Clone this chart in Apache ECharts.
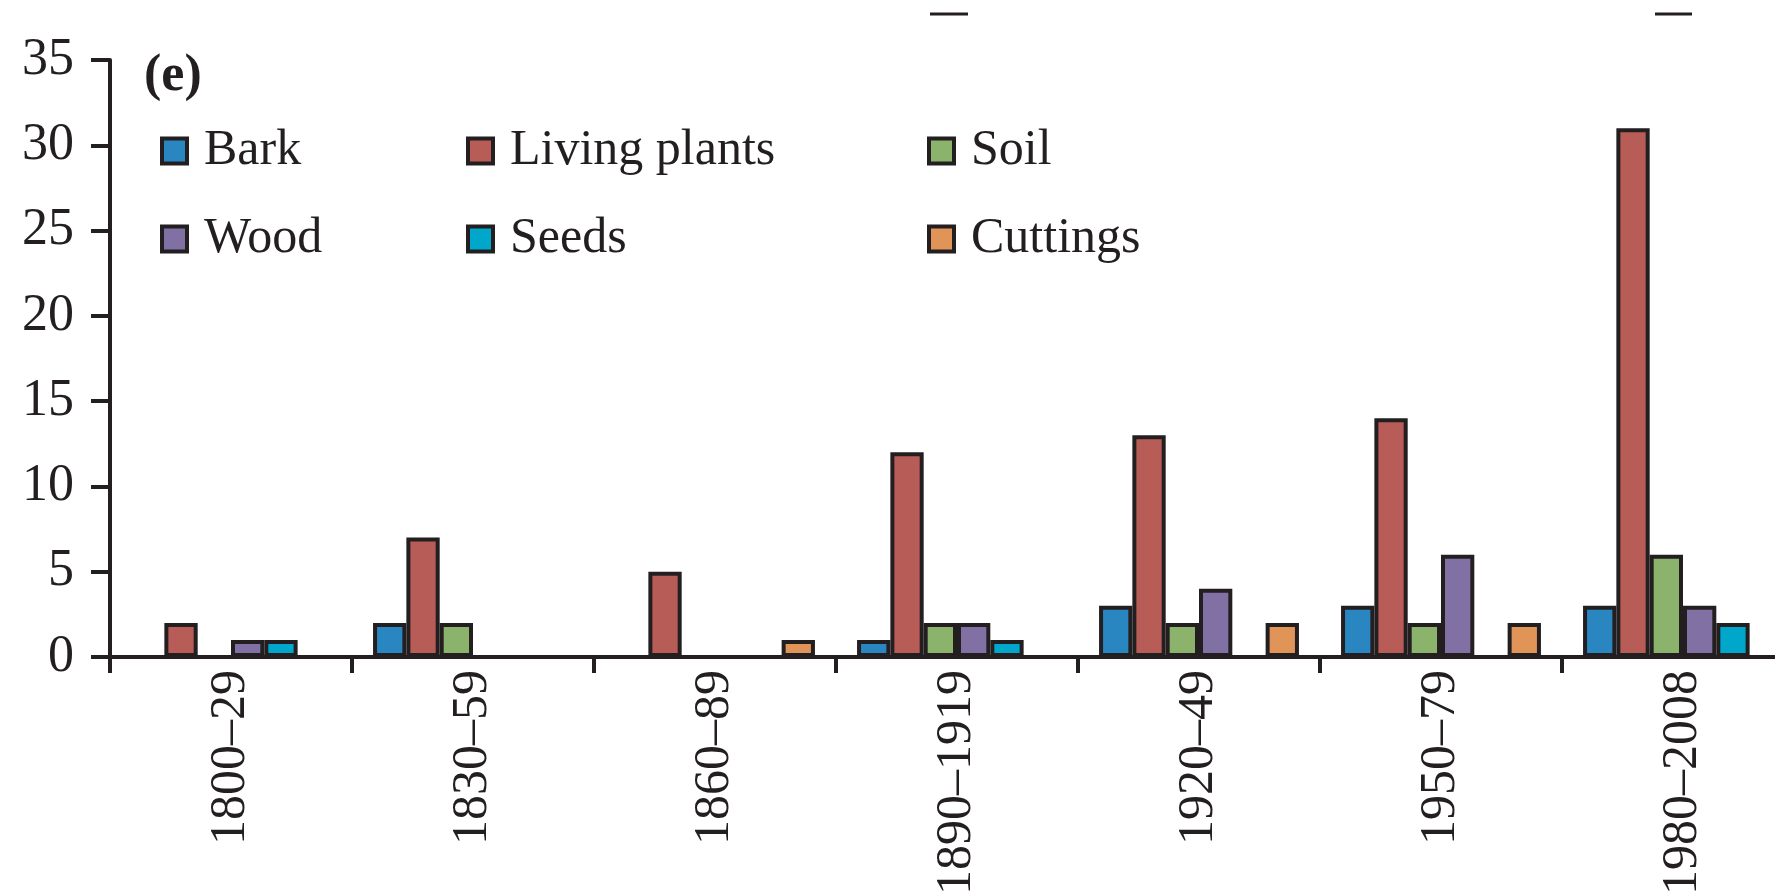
<!DOCTYPE html>
<html>
<head>
<meta charset="utf-8">
<style>
  html, body { margin: 0; padding: 0; background: #ffffff; }
  #chart { width: 1775px; height: 893px; }
</style>
<script src="https://cdn.jsdelivr.net/npm/echarts@6/dist/echarts.min.js"></script>
</head>
<body>
<div id="chart"></div>
<script>
// Period categories along the x axis
const periods = ['1800\u201329', '1830\u201359', '1860\u201389', '1890\u20131919', '1920\u201349', '1950\u201379', '1980\u20132008'];

// Counts per material type in each period
const bark         = [0, 2, 0, 1, 3, 3, 3];
const livingPlants = [2, 7, 5, 12, 13, 14, 31];
const soil         = [0, 2, 0, 2, 2, 2, 6];
const wood         = [1, 0, 0, 2, 4, 6, 3];
const seeds        = [1, 0, 0, 1, 0, 0, 2];
const cuttings     = [0, 0, 1, 0, 2, 2, 0];

const seriesNames = ['Bark', 'Living plants', 'Soil', 'Wood', 'Seeds', 'Cuttings'];
const seriesData  = [bark, livingPlants, soil, wood, seeds, cuttings];
const seriesColors = ['#2a86c1', '#b85c58', '#8cb36c', '#8170a3', '#01a6cb', '#e09457'];

const ink = '#231f20';
const serif = '"Liberation Serif", "Times New Roman", serif';

const chart = echarts.init(document.getElementById('chart'), null, { renderer: 'canvas' });

const series = seriesNames.map((name, i) => ({
  name: name,
  type: 'bar',
  data: seriesData[i],
  barGap: '0%',
  barCategoryGap: '17.4%',
  itemStyle: { color: seriesColors[i], borderColor: ink, borderWidth: 4 },
  emphasis: { disabled: true }
}));

// Legend in three aligned columns, two rows each
function legendColumn(names, left) {
  return {
    orient: 'vertical',
    left: left,
    top: 121,
    itemWidth: 25,
    itemHeight: 25,
    itemGap: 38,
    icon: 'rect',
    selectedMode: false,
    data: names,
    itemStyle: { borderColor: ink, borderWidth: 4 },
    textStyle: {
      fontFamily: serif,
      fontSize: 50,
      color: ink,
      lineHeight: 30,
      padding: [0, 0, 0, 12]
    }
  };
}

chart.setOption({
  animation: false,
  backgroundColor: '#ffffff',
  title: {
    text: '(e)',
    left: 139,
    top: 46,
    textStyle: { fontFamily: serif, fontSize: 52, fontWeight: 'bold', color: ink }
  },
  legend: [
    legendColumn(['Bark', 'Wood'], 155),
    legendColumn(['Living plants', 'Seeds'], 461),
    legendColumn(['Soil', 'Cuttings'], 922)
  ],
  grid: {
    left: 110,
    top: 60,
    right: -29,
    bottom: 236,
    outerBoundsMode: 'none',
    containLabel: false
  },
  xAxis: {
    type: 'category',
    data: periods,
    axisLine: { lineStyle: { color: ink, width: 4 } },
    axisTick: { show: true, length: 16, lineStyle: { color: ink, width: 4 } },
    axisLabel: {
      rotate: 90,
      margin: 13,
      fontFamily: serif,
      fontSize: 50,
      color: ink,
      interval: 0
    },
    splitLine: { show: false }
  },
  yAxis: {
    type: 'value',
    min: 0,
    max: 35,
    interval: 5,
    axisLine: { show: true, lineStyle: { color: ink, width: 4 } },
    axisTick: { show: true, length: 19, lineStyle: { color: ink, width: 4 } },
    axisLabel: {
      margin: 36,
      fontFamily: serif,
      fontSize: 52,
      color: ink
    },
    splitLine: { show: false }
  },
  graphic: [
    // tails of the neighbouring panel's rotated labels at the top edge
    { type: 'line', shape: { x1: 930, y1: 14, x2: 968, y2: 14 }, style: { stroke: ink, lineWidth: 3 } },
    { type: 'line', shape: { x1: 1655, y1: 14, x2: 1692, y2: 14 }, style: { stroke: ink, lineWidth: 3 } }
  ],
  series: series
});
</script>
</body>
</html>
